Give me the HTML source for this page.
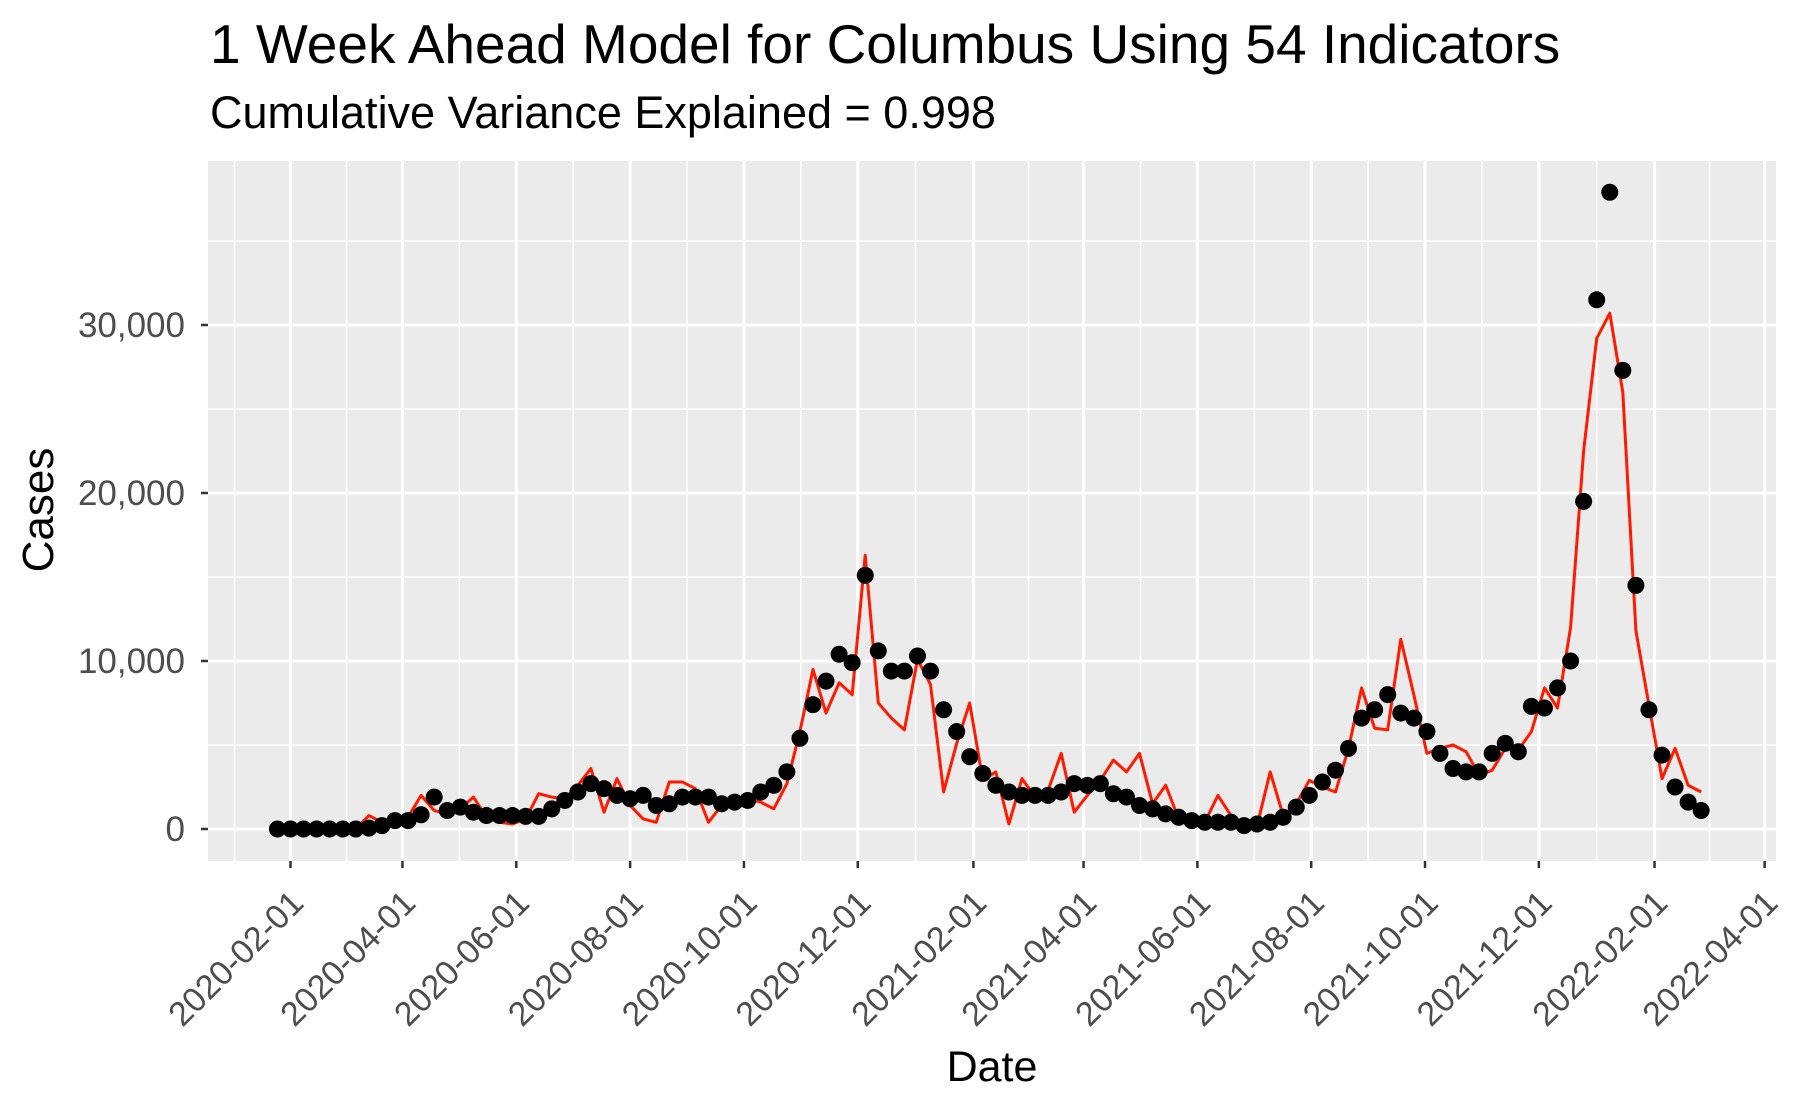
<!DOCTYPE html>
<html><head><meta charset="utf-8"><style>
html,body{margin:0;padding:0;background:#fff;}
svg{display:block;font-family:"Liberation Sans",Arial,sans-serif;}
</style></head><body>
<svg id="chart" width="1800" height="1113" viewBox="0 0 1800 1113" xmlns="http://www.w3.org/2000/svg">
<text x="210" y="63" font-size="55" fill="#000">1 Week Ahead Model for Columbus Using 54 Indicators</text>
<text x="210" y="128" font-size="45" fill="#000">Cumulative Variance Explained = 0.998</text>
<rect x="208" y="161" width="1568" height="700" fill="#ebebeb"/>
<g id="grid"></g><g id="series"></g><g id="axes"></g>
<text x="992" y="1081" font-size="43" text-anchor="middle" fill="#000">Date</text>
<text x="0" y="0" font-size="44" text-anchor="middle" fill="#000" transform="translate(53,510) rotate(-90)">Cases</text>
</svg>
<script>
const startDate = "2020-01-25";
const actualCases = [0,0,0,0,0,0,0,50,200,500,500,850,1900,1100,1300,1000,800,800,800,750,750,1200,1700,2200,2700,2400,2000,1800,2000,1400,1500,1900,1900,1900,1500,1600,1700,2200,2600,3400,5400,7400,8800,10400,9900,15100,10600,9400,9400,10300,9400,7100,5800,4300,3300,2600,2200,2000,2000,2000,2200,2700,2600,2700,2100,1900,1400,1200,900,700,500,400,400,400,200,300,400,700,1300,2000,2800,3500,4800,6600,7100,8000,6900,6600,5800,4500,3600,3400,3400,4500,5100,4600,7300,7200,8400,10000,19500,31500,37900,27300,14500,7100,4400,2500,1600,1100];
const predictedCases = [0,0,0,0,0,0,0,800,400,600,700,2000,1100,900,1200,1900,700,400,300,600,2100,1900,1800,2600,3600,1000,3000,1400,600,400,2800,2800,2400,400,1400,1500,1800,1600,1200,2700,5800,9500,6900,8700,8000,16300,7500,6600,5900,10100,8600,2200,5100,7500,2900,3400,300,3000,1900,2300,4500,1000,2000,2900,4100,3400,4500,1500,2600,600,400,400,2000,800,300,200,3400,800,1500,2900,2500,2200,4800,8400,6000,5900,11300,8000,4500,4800,5000,4600,3200,3500,4800,4700,5800,8400,7200,12000,22500,29200,30700,26000,11800,7400,3000,4800,2600,2200];
const yTicks = [0,10000,20000,30000];
const yTickLabels = ["0","10,000","20,000","30,000"];
const xTickLabels = ["2020-02-01","2020-04-01","2020-06-01","2020-08-01","2020-10-01","2020-12-01","2021-02-01","2021-04-01","2021-06-01","2021-08-01","2021-10-01","2021-12-01","2022-02-01","2022-04-01"];

const NS="http://www.w3.org/2000/svg";
const DAY=86400000;
const t0=Date.UTC(2020,1,1);
function dnum(s){const p=s.split("-");return (Date.UTC(+p[0],+p[1]-1,+p[2])-t0)/DAY;}
function xs(d){return 290.5+d*1.866;}
function ys(v){return 829-v*504/30000;}
function mk(tag,attrs,parent){const e=document.createElementNS(NS,tag);for(const k in attrs)e.setAttribute(k,attrs[k]);parent.appendChild(e);return e;}
const grid=document.getElementById("grid"),series=document.getElementById("series"),axes=document.getElementById("axes");

const yMinor=[];for(let i=0;i<yTicks.length;i++){yMinor.push(yTicks[i]+5000);} yMinor.unshift(-5000);
yMinor.forEach(v=>{const y=ys(v);if(y<161||y>861)return;const l=mk("line",{x1:208,x2:1776,y1:y,y2:y,stroke:"#fff","stroke-width":1.5},grid);

});
yTicks.forEach((v,i)=>{const y=ys(v);
const l=mk("line",{x1:208,x2:1776,y1:y,y2:y,stroke:"#fff","stroke-width":3},grid);


const tk=mk("line",{x1:201,x2:208,y1:y,y2:y,stroke:"#333","stroke-width":2.5},axes);


const t=mk("text",{x:185,y:y+12,"font-size":35,"text-anchor":"end",fill:"#4d4d4d"},axes);t.textContent=yTickLabels[i];

});

const xd=xTickLabels.map(dnum);
const xMinor=[];for(let i=0;i<xd.length-1;i++)xMinor.push((xd[i]+xd[i+1])/2);
xMinor.unshift(xd[0]-(xd[1]-xd[0])/2);
xMinor.forEach(d=>{const x=xs(d);if(x<208||x>1776)return;const l=mk("line",{x1:x,x2:x,y1:161,y2:861,stroke:"#fff","stroke-width":1.5},grid);

});
xd.forEach((d,i)=>{const x=xs(d);
const l=mk("line",{x1:x,x2:x,y1:161,y2:861,stroke:"#fff","stroke-width":3},grid);


const tk=mk("line",{x1:x,x2:x,y1:861,y2:868,stroke:"#333","stroke-width":2.5},axes);


const px=x+15,py=905;
const t=mk("text",{x:px,y:py,"font-size":34,"text-anchor":"end",fill:"#4d4d4d",transform:`rotate(-45 ${px} ${py})`},axes);t.textContent=xTickLabels[i];

});

const s0=dnum(startDate);
const pts=predictedCases.map((v,i)=>xs(s0+7*i).toFixed(1)+","+ys(v).toFixed(1)).join(" ");
const pl=mk("polyline",{points:pts,fill:"none",stroke:"#ff1a00","stroke-width":3,"stroke-linejoin":"round"},series);


actualCases.forEach((v,i)=>{const c=mk("circle",{cx:xs(s0+7*i),cy:ys(v),r:8.5,fill:"#000"},series);

});
</script>
</body></html>
